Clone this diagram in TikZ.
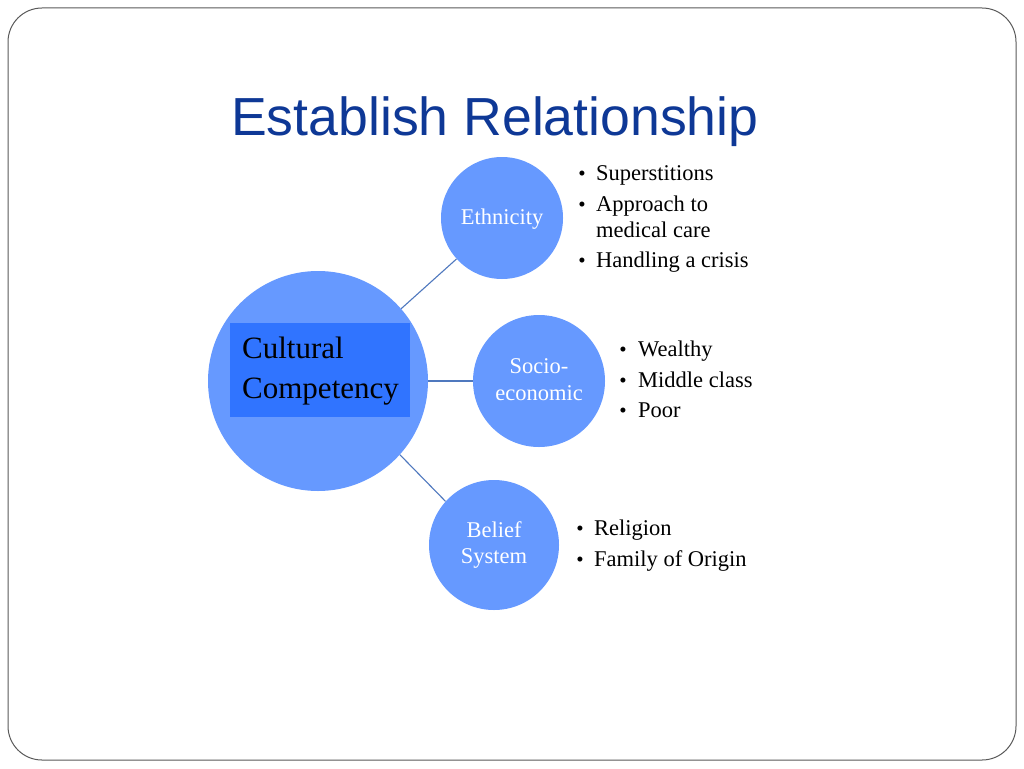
\documentclass[tikz,border=0pt]{standalone}
\usepackage{fontspec}
\setmainfont{Liberation Serif}
\newfontfamily\titlefont{Liberation Sans}
\definecolor{titleblue}{RGB}{14,56,150}
\definecolor{circblue}{RGB}{102,153,255}
\definecolor{rectblue}{RGB}{48,116,255}
\definecolor{linkblue}{RGB}{79,120,190}
\definecolor{framegray}{RGB}{90,90,90}
\tikzset{
  bubble/.style={circle, fill=circblue, draw=none, inner sep=0pt},
  bublabel/.style={text=white, font=\fontsize{22.5}{26}\selectfont, align=center, inner sep=0pt},
  bulletline/.style={anchor=base west, inner sep=0pt, font=\fontsize{22.5}{26}\selectfont},
  bulletdot/.style={anchor=base, inner sep=0pt, font=\fontsize{21}{26}\selectfont},
  link/.style={draw=linkblue, line width=1.1pt}
}
\begin{document}
\begin{tikzpicture}[x=1pt,y=-1pt]
\useasboundingbox (0,0) rectangle (1024,768);
\fill[white] (0,0) rectangle (1024,768);
\draw[framegray, line width=1pt, rounded corners=34pt] (8,8) rectangle (1016,760);

\node[anchor=base west, inner sep=0pt, text=titleblue, font=\titlefont\fontsize{53.6}{60}\selectfont] (title) at (231,135) {Establish Relationship};

% circles
\node[bubble, minimum size=220pt] (cc) at (318,381) {};
\node[bubble, minimum size=122pt] (eth) at (502,218) {};
\node[bubble, minimum size=132pt] (soc) at (539,381) {};
\node[bubble, minimum size=130pt] (bel) at (494,545) {};

% inner rectangle
\fill[rectblue] (230,323) rectangle (410,417);
\node[anchor=base west, inner sep=0pt, font=\fontsize{31}{40}\selectfont] (cul) at (242,358) {Cultural};
\node[anchor=base west, inner sep=0pt, font=\fontsize{31}{40}\selectfont] (comp) at (242,398) {Competency};

% connectors
\draw[link] (cc.{41}) -- (eth.{-138});
\draw[link] (cc.east) -- (soc.west);
\draw[link] (cc.{-42}) -- (bel.{138});

% circle labels
\node[bublabel, anchor=base] (ethl) at (502,224) {Ethnicity};
\node[bublabel, anchor=base] (soc1) at (539,373) {Socio-};
\node[bublabel, anchor=base] (soc2) at (539,400) {economic};
\node[bublabel, anchor=base] (bel1) at (494,537) {Belief};
\node[bublabel, anchor=base] (bel2) at (494,563) {System};

% ethnicity list
\node[bulletdot] (eb1) at (582,180) {•};
\node[bulletline] (e1) at (596,180) {Superstitions};
\node[bulletdot] (eb2) at (582,211) {•};
\node[bulletline] (e2) at (596,211) {Approach to};
\node[bulletline] (e3) at (596,237) {medical care};
\node[bulletdot] (eb4) at (582,267) {•};
\node[bulletline] (e4) at (596,267) {Handling a crisis};

% socio list
\node[bulletdot] (sb1) at (623,356) {•};
\node[bulletline] (s1) at (638,356) {Wealthy};
\node[bulletdot] (sb2) at (623,387) {•};
\node[bulletline] (s2) at (638,387) {Middle class};
\node[bulletdot] (sb3) at (623,417) {•};
\node[bulletline] (s3) at (638,417) {Poor};

% belief list
\node[bulletdot] (bb1) at (580,535) {•};
\node[bulletline] (b1) at (594,535) {Religion};
\node[bulletdot] (bb2) at (580,566) {•};
\node[bulletline] (b2) at (594,566) {Family of Origin};
\end{tikzpicture}
\end{document}
